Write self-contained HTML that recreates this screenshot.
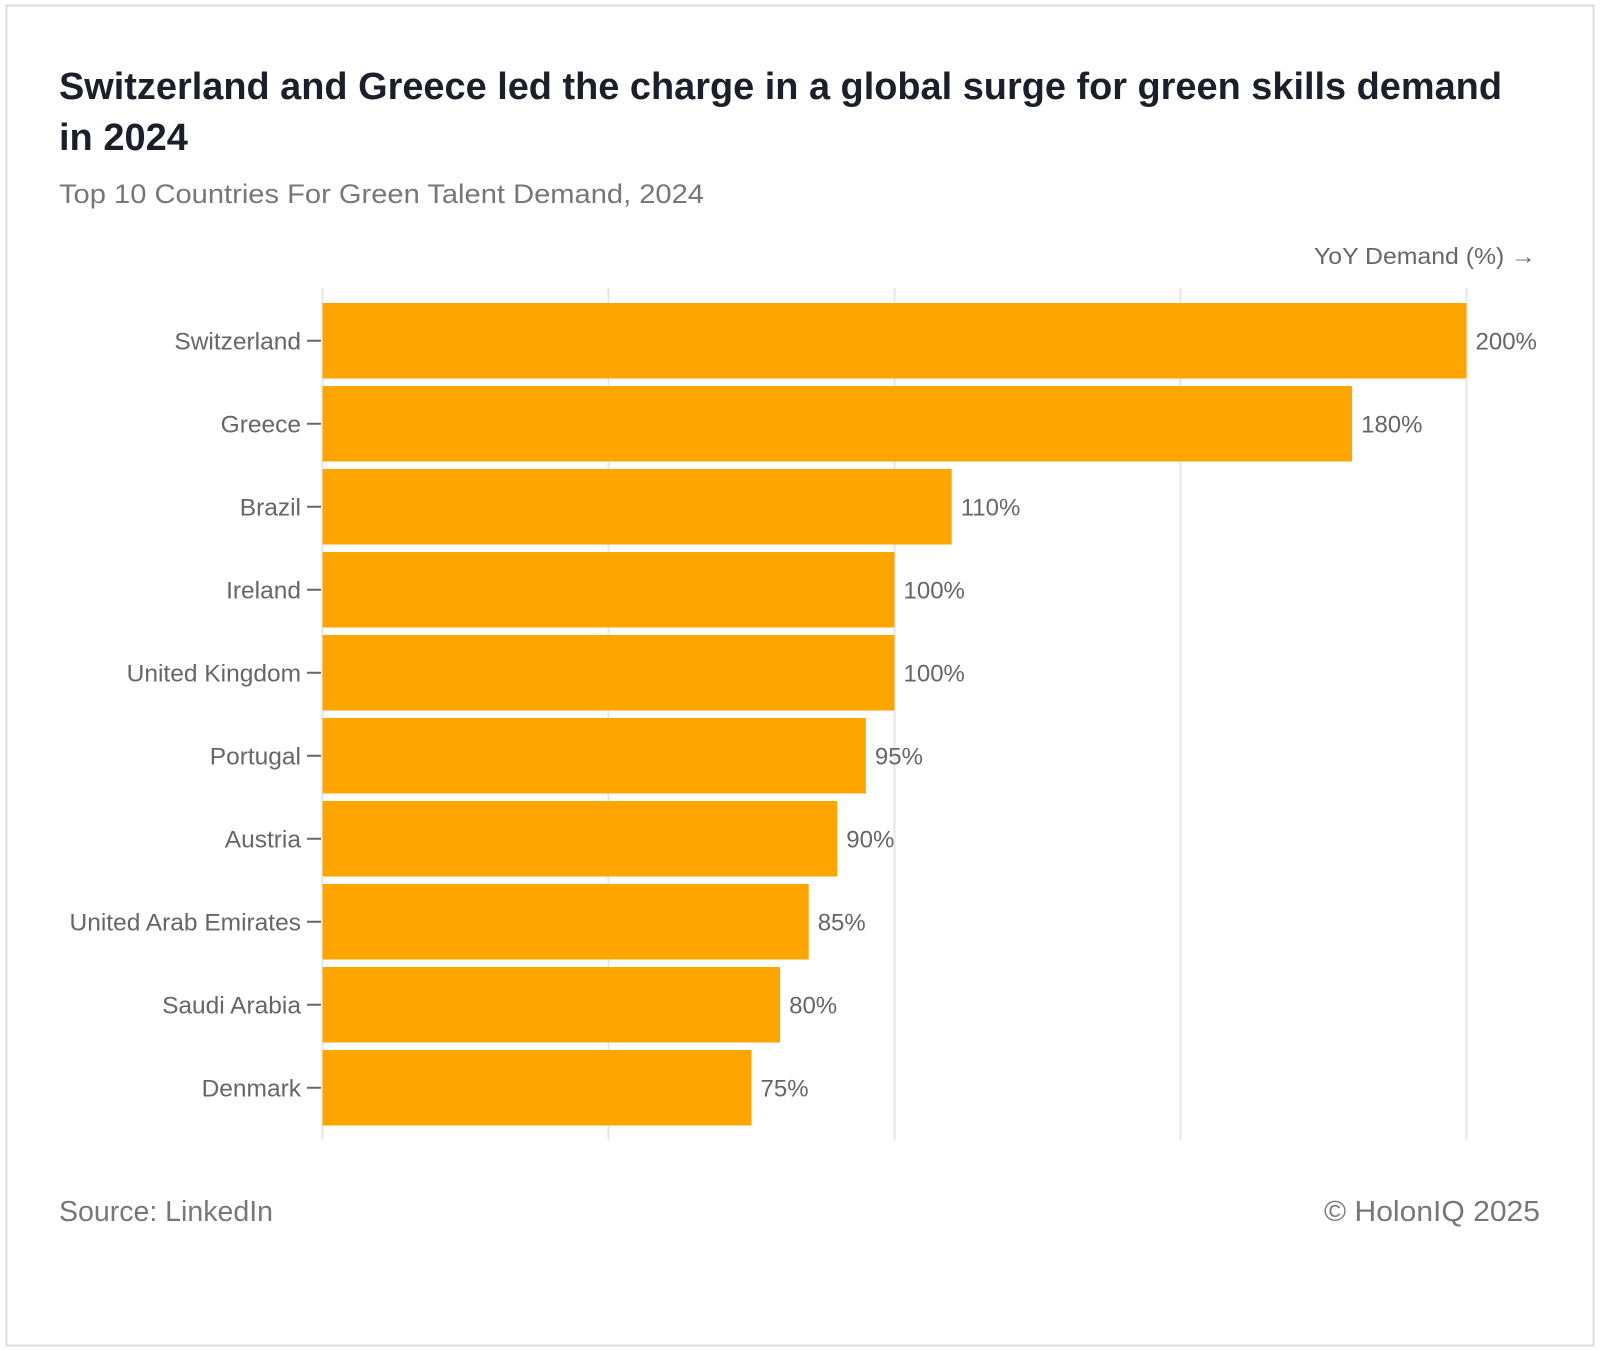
<!DOCTYPE html>
<html><head><meta charset="utf-8"><style>
html,body{margin:0;padding:0;background:#fff}
svg{display:block}
text{font-family:"Liberation Sans",sans-serif}
</style></head><body>
<svg id="chart" width="1600" height="1351" viewBox="0 0 1600 1351" xmlns="http://www.w3.org/2000/svg">
<rect x="6.5" y="5.5" width="1587" height="1340" fill="#fff" stroke="#ddd" stroke-width="2"/>
<text x="59" y="99" font-size="38" font-weight="bold" fill="#1b1f29" textLength="1443" lengthAdjust="spacingAndGlyphs">Switzerland and Greece led the charge in a global surge for green skills demand</text>
<text x="59" y="150" font-size="38" font-weight="bold" fill="#1b1f29">in 2024</text>
<text x="59" y="203" font-size="27" fill="#777" textLength="645" lengthAdjust="spacingAndGlyphs">Top 10 Countries For Green Talent Demand, 2024</text>
<text x="1536" y="264" font-size="23" fill="#666" text-anchor="end" textLength="222" lengthAdjust="spacingAndGlyphs">YoY Demand (%) →</text>
<g id="grid"></g>
<g id="bars"></g>
<text x="59" y="1221" font-size="29" fill="#777" textLength="214" lengthAdjust="spacingAndGlyphs">Source: LinkedIn</text>
<text x="1540" y="1221" font-size="29" fill="#777" text-anchor="end" textLength="216" lengthAdjust="spacingAndGlyphs">© HolonIQ 2025</text>
</svg>
<script>
const categories = ["Switzerland","Greece","Brazil","Ireland","United Kingdom","Portugal","Austria","United Arab Emirates","Saudi Arabia","Denmark"];
const values = [200,180,110,100,100,95,90,85,80,75];
const valueLabels = ["200%","180%","110%","100%","100%","95%","90%","85%","80%","75%"];
const gridTicks = [0,50,100,150,200];

const NS="http://www.w3.org/2000/svg";
const x0=322.5, xPer=1144/200, yTop=303, band=83.0, gap=7.5;
const xs=v=>x0+v*xPer;
const ys=i=>yTop+i*band;
function mk(tag,attrs){const e=document.createElementNS(NS,tag);for(const k in attrs)e.setAttribute(k,attrs[k]);return e;}
const grid=document.getElementById('grid'), bars=document.getElementById('bars');
gridTicks.forEach(t=>{
  const l=mk('line',{x1:xs(t),x2:xs(t),y1:288,y2:1140,stroke:'#e6e6e6','stroke-width':2});
  
  
  grid.appendChild(l);
});
categories.forEach((c,i)=>{
  const y=ys(i), h=band-gap, cy=y+h/2;
  const r=mk('rect',{x:x0,y:y,width:xs(values[i])-x0,height:h,fill:'#FFA500'});
  
  
  bars.appendChild(r);
  const tk=mk('line',{x1:307,x2:321,y1:cy,y2:cy,stroke:'#666','stroke-width':2});
  
  
  bars.appendChild(tk);
  const lab=mk('text',{x:301,y:cy+8.5,'font-size':24.5,fill:'#666','text-anchor':'end'});
  lab.textContent=c;
  
  
  bars.appendChild(lab);
  const vl=mk('text',{x:xs(values[i])+9,y:cy+8.5,'font-size':24,fill:'#666'});
  vl.textContent=valueLabels[i];
  
  
  bars.appendChild(vl);
});
</script>
</body></html>
